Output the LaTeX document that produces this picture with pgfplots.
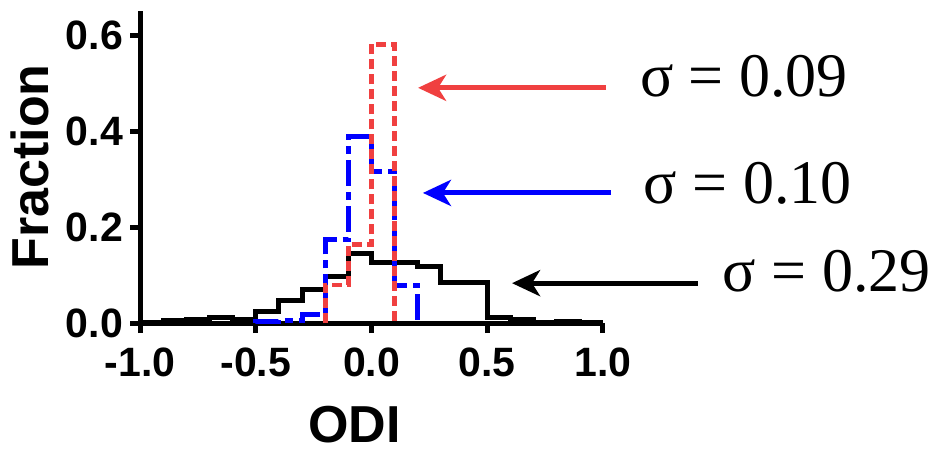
\documentclass[border=0pt]{standalone}
\usepackage{pgfplots}
\pgfplotsset{compat=1.18}
\usepackage{fontspec}
\setmainfont{Liberation Sans}
\newfontfamily\seriffont{Liberation Serif}
\usetikzlibrary{arrows.meta}
\definecolor{histred}{RGB}{240,64,64}
\definecolor{histblue}{RGB}{0,0,255}
\begin{document}
\begin{tikzpicture}
\begin{axis}[
  scale only axis,
  width=231.5pt, height=156pt,
  xmin=-1, xmax=1, ymin=0, ymax=0.65,
  axis lines*=left,
  axis line style={line width=2.5pt, -},
  tick align=outside,
  major tick length=5pt,
  tick style={line width=2.5pt, black},
  xtick={-1,-0.5,0,0.5,1},
  ytick={0,0.2,0.4,0.6},
  /pgf/number format/assume math mode=true,
  /pgf/number format/.cd, fixed, fixed zerofill, precision=1, /pgfplots/.cd,
  ticklabel style={font=\bfseries\fontsize{20.5}{22}\selectfont},
  xticklabel style={yshift=-4pt},
  xlabel={ODI},
  ylabel={Fraction},
  label style={font=\bfseries\fontsize{26}{28}\selectfont},
  xlabel style={at={(axis description cs:0.463,0)}, anchor=center, yshift=-51pt},
  ylabel style={yshift=1.5pt},
  clip=false,
]
% sigma = 0.29
\addplot[const plot, black, line width=2.5pt] coordinates {
(-1.0,0.002) (-0.9,0.005) (-0.8,0.008) (-0.7,0.011) (-0.6,0.008)
(-0.5,0.025) (-0.4,0.046) (-0.3,0.069) (-0.2,0.097) (-0.1,0.145)
(0.0,0.126) (0.1,0.126) (0.2,0.117) (0.3,0.084) (0.4,0.084)
(0.5,0.012) (0.6,0.008) (0.7,0.002) (0.8,0.004) (0.9,0.001) (1.0,0.001)
};
% sigma = 0.10
\addplot[const plot, histblue, line width=2.5pt, dash pattern=on 13pt off 3pt on 4pt off 3pt] coordinates {
(-0.5,0) (-0.5,0.003) (-0.4,0.006) (-0.3,0.017) (-0.2,0.173) (-0.1,0.388)
(0.0,0.315) (0.1,0.079) (0.2,0)
};
% sigma = 0.09
\addplot[const plot, histred, line width=2.4pt, dash pattern=on 5pt off 2.5pt] coordinates {
(-0.2,0) (-0.2,0.079) (-0.1,0.163) (0.0,0.581) (0.1,0)
};
\draw[histred, line width=2.5pt, -{Stealth[length=14pt,width=13pt,inset=4pt]}]
  (axis cs:1.013,0.49) -- (axis cs:0.201,0.49);
\draw[histblue, line width=2.5pt, -{Stealth[length=14pt,width=13pt,inset=4pt]}]
  (axis cs:1.035,0.271) -- (axis cs:0.222,0.271);
\draw[black, line width=2.5pt, -{Stealth[length=14pt,width=13pt,inset=4pt]}]
  (axis cs:1.41,0.083) -- (axis cs:0.607,0.083);
\node[anchor=base, font=\seriffont\fontsize{31}{34}\selectfont, inner sep=0pt] at (axis cs:1.609,0.471) {σ = 0.09};
\node[anchor=base, font=\seriffont\fontsize{31}{34}\selectfont, inner sep=0pt] at (axis cs:1.626,0.25) {σ = 0.10};
\node[anchor=base, font=\seriffont\fontsize{31}{34}\selectfont, inner sep=0pt] at (axis cs:1.967,0.065) {σ = 0.29};
\path[use as bounding box] (axis cs:-1.605,-0.267) rectangle (axis cs:2.43,0.673);
\end{axis}
\end{tikzpicture}
\end{document}
